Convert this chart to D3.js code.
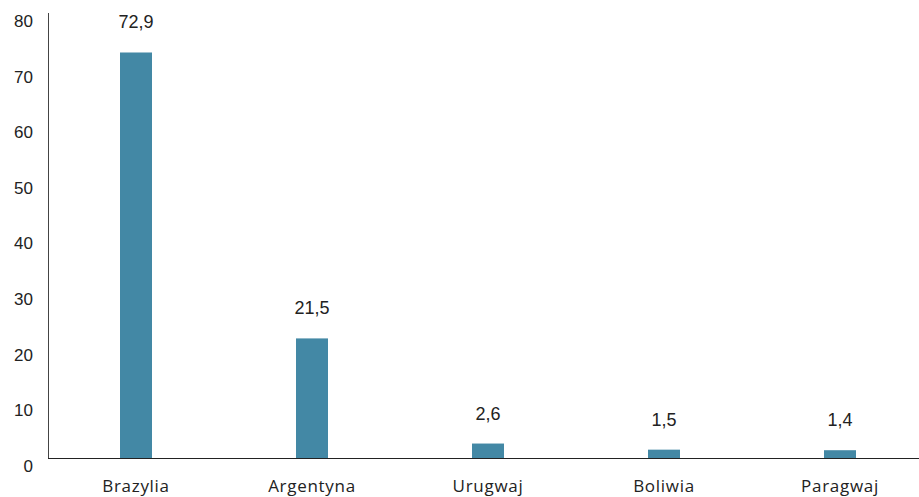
<!DOCTYPE html>
<html>
<head>
<meta charset="utf-8">
<script src="https://cdn.jsdelivr.net/npm/d3@7"></script>
<style>
  body { margin: 0; background: #fff; }
  text { fill: #222; }
</style>
</head>
<body>
<svg width="919" height="497"></svg>
<script>
const countries = ['Brazylia', 'Argentyna', 'Urugwaj', 'Boliwia', 'Paragwaj'];
const values = [72.9, 21.5, 2.6, 1.5, 1.4];
const yTicks = [0, 10, 20, 30, 40, 50, 60, 70, 80];

const svg = d3.select('svg');

const x = d3.scaleBand()
  .domain(countries)
  .range([48, 928]);

const y = d3.scaleLinear()
  .domain([0, 80])
  .range([458, 13]);

const barW = 32;

// bars
svg.selectAll('.bar')
  .data(values)
  .enter()
  .append('rect')
  .attr('class', 'bar')
  .attr('x', (d, i) => x(countries[i]) + x.bandwidth() / 2 - barW / 2)
  .attr('y', d => y(d))
  .attr('width', barW)
  .attr('height', d => y(0) - y(d))
  .attr('fill', '#4388a5');

// value labels
svg.selectAll('.val')
  .data(values)
  .enter()
  .append('text')
  .attr('class', 'val')
  .attr('x', (d, i) => x(countries[i]) + x.bandwidth() / 2)
  .attr('y', d => y(d) - 24)
  .attr('text-anchor', 'middle')
  .style('font-family', '"Liberation Sans", Arial, sans-serif')
  .style('font-size', '18px')
  .text(d => d.toString().replace('.', ','));

// y axis line
svg.append('line')
  .attr('x1', 48.5).attr('x2', 48.5)
  .attr('y1', 13).attr('y2', y(0))
  .attr('stroke', '#444').attr('stroke-width', 1);

// baseline
svg.append('line')
  .attr('x1', 48).attr('x2', 919)
  .attr('y1', y(0) + 0.5).attr('y2', y(0) + 0.5)
  .attr('stroke', '#222').attr('stroke-width', 1);

// y tick labels
svg.selectAll('.ytick')
  .data(yTicks)
  .enter()
  .append('text')
  .attr('class', 'ytick')
  .attr('x', 33)
  .attr('y', d => y(d) + 8)
  .attr('dy', '0.35em')
  .attr('text-anchor', 'end')
  .style('font-family', '"Liberation Sans", Arial, sans-serif')
  .style('font-size', '17px')
  .text(d => d);

// category labels
svg.selectAll('.cat')
  .data(countries)
  .enter()
  .append('text')
  .attr('class', 'cat')
  .attr('x', d => x(d) + x.bandwidth() / 2)
  .attr('y', 492)
  .attr('text-anchor', 'middle')
  .style('font-family', '"Open Sans", sans-serif')
  .style('font-size', '17px')
  .style('letter-spacing', '0.7px')
  .text(d => d);
</script>
</body>
</html>
